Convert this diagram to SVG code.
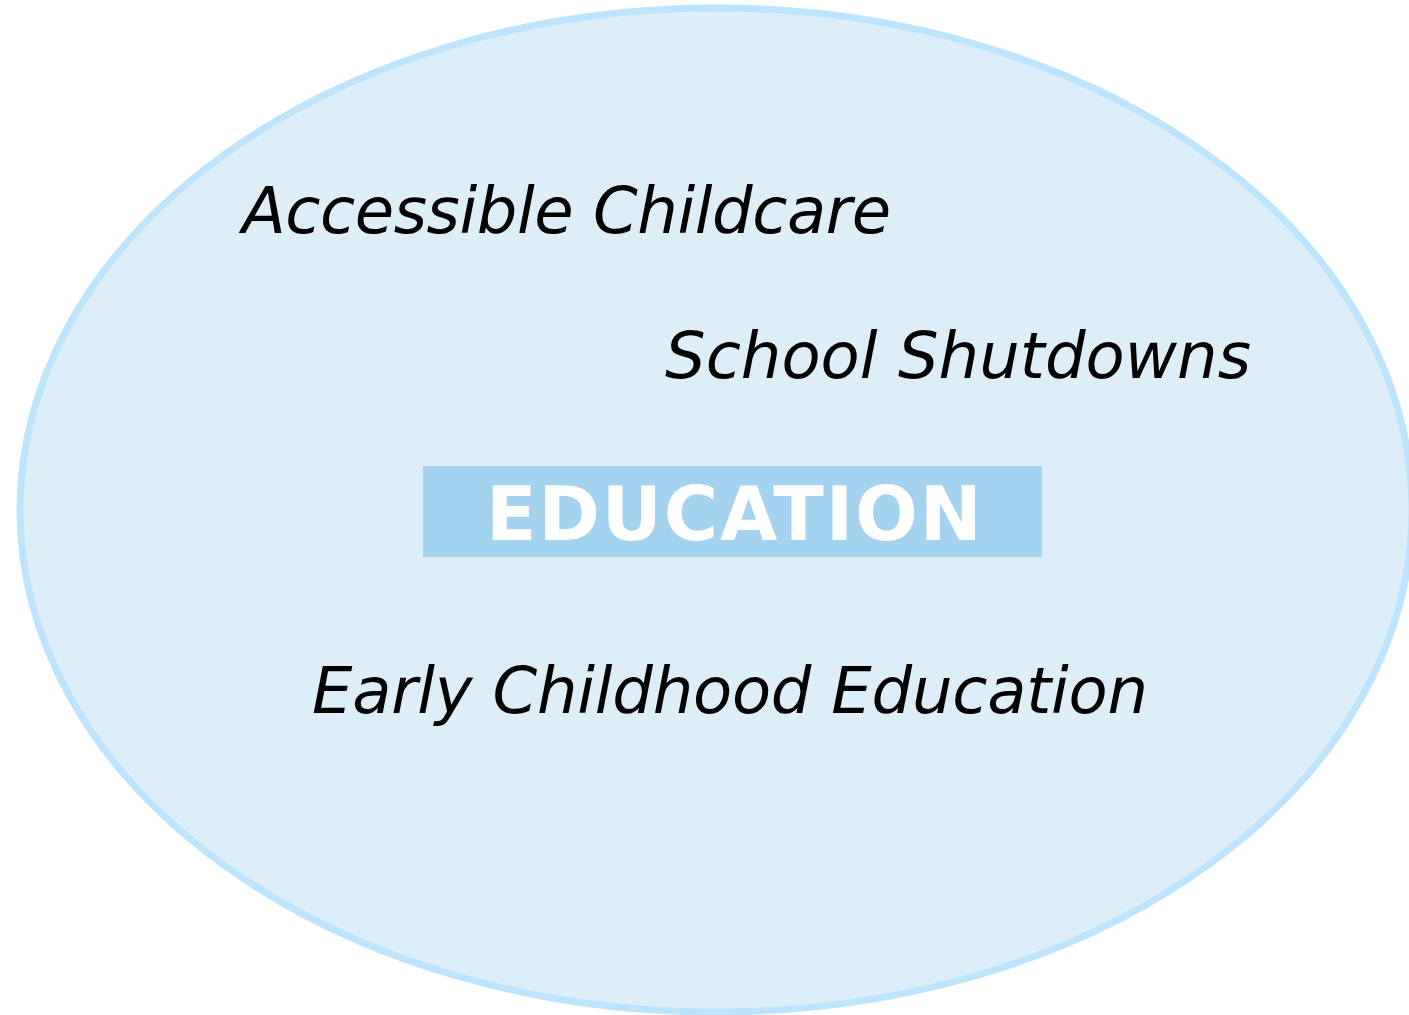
<svg xmlns="http://www.w3.org/2000/svg" width="1409" height="1015" viewBox="0 0 1409 1015">
<style>
.item{font-family:"DejaVu Sans",Verdana,sans-serif;font-style:italic;font-size:64px;fill:#000}
.title{font-family:"DejaVu Sans",Verdana,sans-serif;font-weight:bold;font-size:74px;fill:#fff;letter-spacing:2.2px}
</style>
<rect width="1409" height="1015" fill="#fff"/>
<g id="circle">
<ellipse cx="716" cy="510" rx="696" ry="502" fill="#DEEEF8" stroke="#BDE4FC" stroke-width="7"/>
</g>
<g id="education">
<rect x="423" y="466" width="619" height="91" fill="#A3D3EE"/>
<text class="title" x="486" y="540" textLength="498" lengthAdjust="spacing">EDUCATION</text>
</g>
<g id="accessible-childcare">
<text class="item" x="242" y="233" textLength="649" lengthAdjust="spacing">Accessible Childcare</text>
</g>
<g id="school-shutdowns">
<text class="item" x="665" y="378" textLength="586" lengthAdjust="spacing">School Shutdowns</text>
</g>
<g id="early-childhood-education">
<text class="item" x="312" y="713" textLength="836" lengthAdjust="spacing">Early Childhood Education</text>
</g>
<g id="connectors"></g>
</svg>
